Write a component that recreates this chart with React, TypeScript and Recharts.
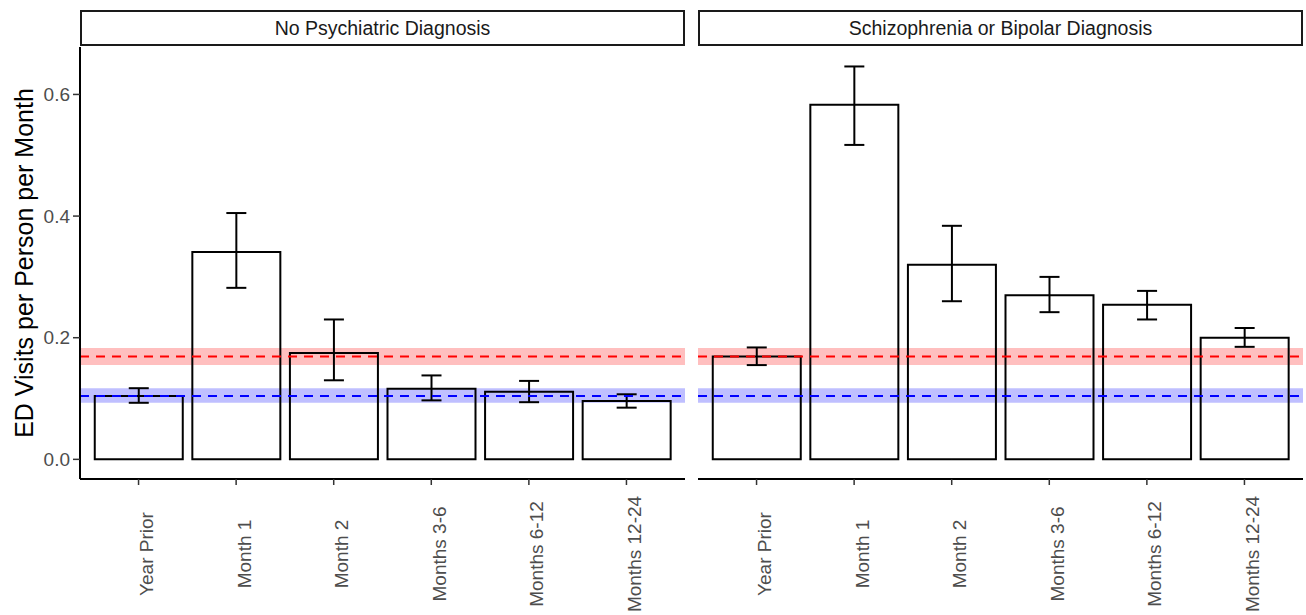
import { BarChart, Bar, XAxis, YAxis, ErrorBar, ReferenceArea, ReferenceLine } from 'recharts';

// periods on the x axis
const periods = ['Year Prior', 'Month 1', 'Month 2', 'Months 3-6', 'Months 6-12', 'Months 12-24'];

// no psychiatric diagnosis: rate with lower / upper CI
const noDxRate = [0.104, 0.341, 0.175, 0.116, 0.111, 0.096];
const noDxLow = [0.093, 0.282, 0.130, 0.097, 0.094, 0.085];
const noDxHigh = [0.117, 0.405, 0.230, 0.138, 0.129, 0.107];

// schizophrenia or bipolar diagnosis
const sbRate = [0.169, 0.583, 0.320, 0.270, 0.254, 0.200];
const sbLow = [0.155, 0.517, 0.260, 0.242, 0.230, 0.185];
const sbHigh = [0.184, 0.646, 0.384, 0.300, 0.277, 0.216];

// baseline (year prior) reference bands
const blueBase = { mean: 0.104, low: 0.093, high: 0.117 };
const redBase = { mean: 0.169, low: 0.155, high: 0.183 };

const yTicks = [0, 0.2, 0.4, 0.6];
const yDomain = [-0.0323, 0.678];
const xTicks = [1, 2, 3, 4, 5, 6];
const xDomain = [0.4, 6.6];

const panelTitles = ['No Psychiatric Diagnosis', 'Schizophrenia or Bipolar Diagnosis'];

const FONT = '"Liberation Sans", Arial, Helvetica, sans-serif';

function buildRows(rate: number[], low: number[], high: number[]) {
    return periods.map((p, i) => ({
        idx: i + 1,
        period: p,
        rate: rate[i],
        err: [rate[i] - low[i], high[i] - rate[i]],
    }));
}

function XTick(props: any) {
    const { x, y, payload } = props;
    return (
        <text
            transform={`translate(${x + 8},${y + 67}) rotate(-90)`}
            textAnchor="middle"
            dominantBaseline="central"
            fill="#4D4D4D"
            fontSize={19}
            fontFamily={FONT}
        >
            {periods[payload.value - 1]}
        </text>
    );
}

function YTick(props: any) {
    const { x, y, payload } = props;
    return (
        <text
            x={x}
            y={y}
            textAnchor="end"
            dominantBaseline="central"
            fill="#4D4D4D"
            fontSize={19}
            fontFamily={FONT}
        >
            {Number(payload.value).toFixed(1)}
        </text>
    );
}

function Panel({ rows, showY, width }: { rows: any[]; showY: boolean; width: number }) {
    return (
        <BarChart
            width={width}
            height={615}
            data={rows}
            margin={{ top: 47, right: showY ? 5 : 3, bottom: 0, left: 0 }}
            barSize={88}
        >
            <XAxis
                dataKey="idx"
                type="number"
                domain={xDomain}
                ticks={xTicks}
                allowDataOverflow
                height={136}
                axisLine={{ stroke: '#000', strokeWidth: 2 }}
                tickLine={{ stroke: '#333', strokeWidth: 1.5 }}
                tickSize={6}
                tick={<XTick />}
                interval={0}
            />
            <YAxis
                type="number"
                domain={yDomain}
                ticks={yTicks}
                allowDataOverflow
                hide={!showY}
                width={80}
                axisLine={{ stroke: '#000', strokeWidth: 2 }}
                tickLine={{ stroke: '#333', strokeWidth: 1.5 }}
                tickSize={7}
                tickMargin={3}
                tick={<YTick />}
                label={{
                    content: () => (
                        <text
                            transform="translate(24,263) rotate(-90)"
                            textAnchor="middle"
                            dominantBaseline="central"
                            fill="#000"
                            fontSize={25}
                            fontFamily={FONT}
                        >
                            ED Visits per Person per Month
                        </text>
                    ),
                }}
            />
            <Bar dataKey="rate" fill="none" stroke="#000" strokeWidth={2} isAnimationActive={false}>
                <ErrorBar dataKey="err" width={10} stroke="#000" strokeWidth={2} direction="y" isAnimationActive={false} />
            </Bar>
            <ReferenceArea y1={redBase.low} y2={redBase.high} fill="#FF0000" fillOpacity={0.25} stroke="none" />
            <ReferenceArea y1={blueBase.low} y2={blueBase.high} fill="#0000FF" fillOpacity={0.25} stroke="none" />
            <ReferenceLine y={redBase.mean} stroke="#FF0000" strokeWidth={2} strokeDasharray="9 7" />
            <ReferenceLine y={blueBase.mean} stroke="#0000FF" strokeWidth={2} strokeDasharray="9 7" />
        </BarChart>
    );
}

function Strip({ left, title }: { left: number; title: string }) {
    return (
        <div
            style={{
                position: 'absolute',
                left,
                top: 10,
                width: 605,
                height: 36,
                boxSizing: 'border-box',
                border: '2px solid #1A1A1A',
                display: 'flex',
                alignItems: 'center',
                justifyContent: 'center',
                fontFamily: FONT,
                fontSize: 19.5,
                color: '#1A1A1A',
                background: '#fff',
            }}
        >
            {title}
        </div>
    );
}

export default function App() {
    const leftRows = buildRows(noDxRate, noDxLow, noDxHigh);
    const rightRows = buildRows(sbRate, sbLow, sbHigh);
    return (
        <div style={{ position: 'absolute', left: 0, top: 0, width: 1306, height: 615, background: '#fff' }}>
            <div style={{ position: 'absolute', left: 0, top: 0 }}>
                <Panel rows={leftRows} showY width={690} />
            </div>
            <div style={{ position: 'absolute', left: 698, top: 0 }}>
                <Panel rows={rightRows} showY={false} width={608} />
            </div>
            <Strip left={80} title={panelTitles[0]} />
            <Strip left={698} title={panelTitles[1]} />
        </div>
    );
}
